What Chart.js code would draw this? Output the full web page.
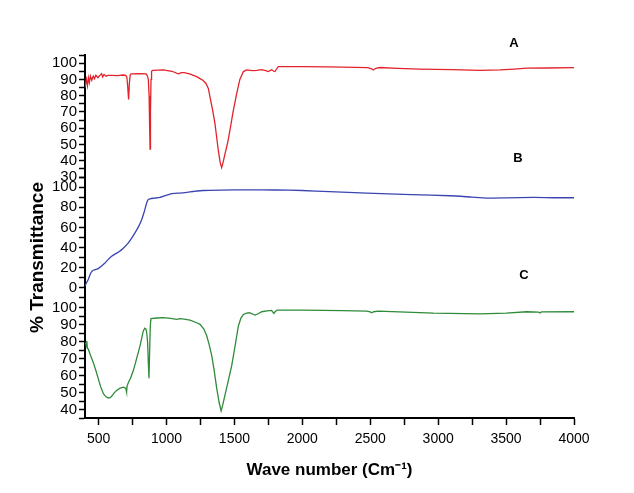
<!DOCTYPE html>
<html>
<head>
<meta charset="utf-8">
<title>FTIR spectra</title>
<script src="https://cdn.jsdelivr.net/npm/chart.js@4.4.1/dist/chart.umd.min.js"></script>
<style>
  body { margin: 0; background: #fff; }
  #wrap { width: 634px; height: 493px; }
</style>
</head>
<body>
<div id="wrap"><canvas id="irChart" width="634" height="493"></canvas></div>
<script>
// spectrum A (red)
var wnA = [400,410,418,425,432,440,450,461,470,480,495,510,522,530,540,555,570,600,640,682,700,708,714,721,727,733,740,800,850,860,866,872,876,879,882,886,890,898,976,1040,1087,1110,1130,1170,1222,1247,1270,1290,1308,1320,1340,1357,1370,1382,1395,1406,1418,1430,1450,1467,1490,1517,1540,1566,1590,1615,1640,1664,1701,1730,1750,1774,1790,1799,1815,1823,2000,2200,2480,2510,2523,2540,2572,2700,2867,3100,3309,3456,3560,3652,3800,4000];
var tA = [85,90,86,91,88,92,89.5,92,90.5,92.5,91,92.5,93.5,91.5,93,92,92.5,92.5,92.3,92.7,92.5,91.5,86,77.6,88,92.8,93.4,93.6,93.4,92,90,80,60,47.2,70,90,95,95.5,95.8,95,93.4,94.2,94.2,93.4,91.7,90.5,89.3,87.5,84.5,79.3,71,62.7,54,46,39,35.8,39.5,44,51,58.6,70,81.4,90,94.8,95.8,95.6,95.4,95.6,96,95.4,94.8,95.9,95,94.8,97,97.9,97.9,97.7,97.3,96.5,95.8,96.8,97.3,96.8,96.3,96,95.6,95.8,96.3,96.9,97,97.3];

// spectrum B (blue)
var wnB = [400,405,415,424,440,457,475,498,520,547,570,596,620,645,680,719,745,768,795,817,835,854,865,879,910,952,990,1026,1060,1099,1150,1197,1271,1400,1600,1800,2000,2200,2474,2800,3088,3250,3358,3500,3701,3850,4000];
var tB = [2,3.3,6,8.2,14,17.1,18,19.1,21.5,24.7,28,31.3,33.5,35.3,39,44.6,49.5,54.5,61,67.6,75,84.2,87.5,88.4,89,89.7,91.5,93.1,93.8,94.1,94.8,95.6,96.6,97,97.3,97.1,96.6,95.5,94,92.6,91.4,90,89.1,89.2,89.7,89.4,89.4];

// spectrum C (green)
var wnC = [400,405,410,413,418,424,440,461,480,498,515,535,555,572,585,596,612,633,655,682,700,704,706,710,719,735,756,780,805,820,829,840,849,855,861,866,871,876,881,886,930,976,1030,1075,1099,1130,1173,1222,1247,1275,1296,1315,1333,1350,1370,1388,1402,1415,1430,1455,1480,1505,1529,1548,1566,1590,1610,1630,1652,1675,1701,1740,1774,1783,1791,1800,1816,2000,2300,2474,2500,2510,2525,2560,2965,3309,3500,3652,3740,3750,3760,4000];
var tC = [79,79.5,77,80.5,76,75.7,72,67.8,63,58.1,53.5,49.4,47.5,46.8,47,47.8,49.5,51.3,52.5,53.2,52.6,51,50.3,54,55.8,58.5,63,70,77.6,83,86.4,88,87.4,85,79.5,68,58.5,75,90,93.6,94,94.2,93.8,93.2,93.6,93.4,92.8,91.2,90.3,87.5,83.5,78,71.8,63.5,52.3,44,39.2,43,48.4,57,65.9,77.5,89.3,94,96.1,96.9,97.1,96.5,95.7,96.5,97.7,98.2,98.5,97.5,96.7,97.8,98.7,98.7,98.4,98.1,97.6,97.1,97.7,98.1,96.9,96.5,96.9,97.7,97.5,97,97.6,97.7];

// ticks (labels are shown only on the major ones)
var xTicks = [500,750,1000,1250,1500,1750,2000,2250,2500,2750,3000,3250,3500,3750,4000];
var xLabels = [500,1000,1500,2000,2500,3000,3500,4000];
var yTicksA = [30,35,40,45,50,55,60,65,70,75,80,85,90,95,100,105];
var yLabelsA = [30,40,50,60,70,80,90,100];
var yTicksB = [-10,0,10,20,30,40,50,60,70,80,90,100,110];
var yLabelsB = [0,20,40,60,80,100];
var yTicksC = [35,40,45,50,55,60,65,70,75,80,85,90,95,100];
var yLabelsC = [40,50,60,70,80,90,100];

// panel names, placed in data units of each panel
var panelNames = ['A','B','C'];
var panelNameWn = [3558,3588,3632];
var panelNameT = [112.4,128.9,119.4];

var colors = ['#e3232b','#3a45b0','#2e8b3a'];

function toPoints(xs, ys) {
  return xs.map(function (x, i) { return {x: x, y: ys[i]}; });
}

function fixTicks(list) {
  return function (scale) {
    scale.ticks = list.map(function (v) { return {value: v}; });
  };
}

function labelIf(list) {
  return function (value) {
    return list.indexOf(value) > -1 ? String(value) : '';
  };
}

function yScale(min, max, weight, order, ticks, labels) {
  return {
    type: 'linear',
    position: 'left',
    stack: 'ir',
    stackWeight: weight,
    weight: order,
    min: min,
    max: max,
    afterBuildTicks: fixTicks(ticks),
    afterFit: function (scale) { scale.width = 50; },
    border: { display: true, color: '#000', width: 2 },
    grid: { drawOnChartArea: false, drawTicks: true, tickLength: 6, tickColor: '#000', tickWidth: 1.5 },
    ticks: {
      autoSkip: false,
      padding: 2,
      color: '#000',
      font: { family: "'Liberation Sans', Arial, sans-serif", size: 15 },
      callback: labelIf(labels)
    }
  };
}

// extra text: panel letters and the y title
var textPlugin = {
  id: 'irText',
  afterDraw: function (chart) {
    var ctx = chart.ctx;
    var area = chart.chartArea;
    var ids = ['yA','yB','yC'];
    ctx.save();
    ctx.fillStyle = '#000';
    ctx.textAlign = 'center';
    ctx.textBaseline = 'middle';
    ctx.font = "bold 13px 'Liberation Sans', Arial, sans-serif";
    for (var i = 0; i < panelNames.length; i++) {
      var px = chart.scales.x.getPixelForValue(panelNameWn[i]);
      var py = chart.scales[ids[i]].getPixelForValue(panelNameT[i]);
      ctx.fillText(panelNames[i], px, py);
    }
    ctx.translate(area.left - 47, (area.top + area.bottom) / 2 + 21);
    ctx.rotate(-Math.PI / 2);
    ctx.font = "bold 19px 'Liberation Sans', Arial, sans-serif";
    ctx.fillText('% Transmittance', 0, 0);
    ctx.restore();
  }
};

new Chart(document.getElementById('irChart'), {
  type: 'line',
  data: {
    datasets: [
      { label: 'A', data: toPoints(wnA, tA), yAxisID: 'yA', borderColor: colors[0], borderWidth: 1.3, pointRadius: 0, tension: 0 },
      { label: 'B', data: toPoints(wnB, tB), yAxisID: 'yB', borderColor: colors[1], borderWidth: 1.3, pointRadius: 0, tension: 0.2 },
      { label: 'C', data: toPoints(wnC, tC), yAxisID: 'yC', borderColor: colors[2], borderWidth: 1.3, pointRadius: 0, tension: 0 }
    ]
  },
  options: {
    responsive: false,
    animation: false,
    layout: { padding: { left: 35, right: 60, top: 55, bottom: 0 } },
    plugins: { legend: { display: false }, tooltip: { enabled: false } },
    scales: {
      x: {
        type: 'linear',
        position: 'bottom',
        min: 400,
        max: 4000,
        afterBuildTicks: fixTicks(xTicks),
        afterFit: function (scale) { scale.height = 75; },
        border: { display: true, color: '#000', width: 2 },
        grid: { drawOnChartArea: false, drawTicks: true, tickLength: 7, tickColor: '#000', tickWidth: 1.5 },
        ticks: {
          autoSkip: false,
          maxRotation: 0,
          padding: 6,
          color: '#000',
          font: { family: "'Liberation Sans', Arial, sans-serif", size: 14 },
          callback: labelIf(xLabels)
        },
        title: {
          display: true,
          text: 'Wave number (Cm\u207B\u00B9)',
          color: '#000',
          padding: { top: 0, bottom: 12 },
          font: { family: "'Liberation Sans', Arial, sans-serif", size: 17, weight: 'bold' }
        }
      },
      yA: yScale(30, 105, 122, 3, yTicksA, yLabelsA),
      yB: yScale(-19, 110, 130, 2, yTicksB, yLabelsB),
      yC: yScale(35, 100.5, 111, 1, yTicksC, yLabelsC)
    }
  },
  plugins: [textPlugin]
});
</script>
</body>
</html>
